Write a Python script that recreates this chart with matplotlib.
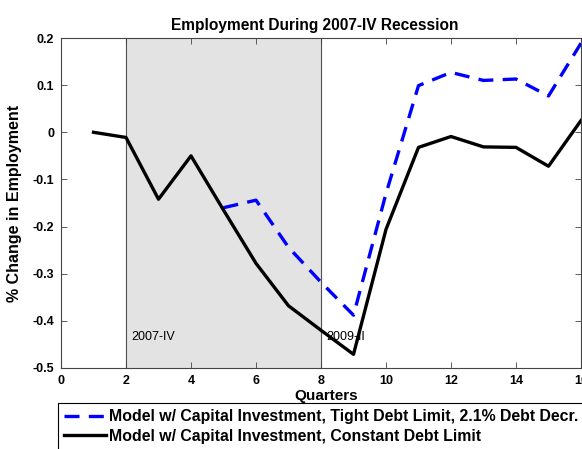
import numpy as np
import matplotlib
matplotlib.use("Agg")
from matplotlib import pyplot as plt

plt.rcParams['font.family'] = ['Liberation Sans', 'DejaVu Sans']

# quarters and series values
q_const = [1, 2, 3, 4, 5, 6, 7, 8, 9, 10, 11, 12, 13, 14, 15, 16]
emp_const = [0.0, -0.011, -0.142, -0.050, -0.165, -0.278, -0.368, -0.420,
             -0.471, -0.206, -0.032, -0.009, -0.031, -0.032, -0.072, 0.025]
q_tight = [5, 6, 7, 8, 9, 10, 11, 12, 13, 14, 15, 16]
emp_tight = [-0.160, -0.144, -0.244, -0.318, -0.388, -0.130, 0.099, 0.127,
             0.110, 0.113, 0.077, 0.189]

rec_start, rec_end = 2, 8
rec_labels = ['2007-IV', '2009-II']

fig = plt.figure(figsize=(5.82, 4.49), dpi=100)
ax = fig.add_axes([61/582, 81/449, 520/582, 330/449])

ax.axvspan(rec_start, rec_end, color='#e3e3e3', zorder=0)
ax.axvline(rec_start, color='#555555', lw=0.8, zorder=1)
ax.axvline(rec_end, color='#555555', lw=0.8, zorder=1)

l1, = ax.plot(q_tight, emp_tight, color='#0000ff', lw=2.4, ls=(0, (4.5, 2.8)), zorder=3,
              label='Model w/ Capital Investment, Tight Debt Limit, 2.1% Debt Decr.')
l2, = ax.plot(q_const, emp_const, color='black', lw=2.4, zorder=3,
              label='Model w/ Capital Investment, Constant Debt Limit')

ax.text(rec_start + 0.15, -0.435, rec_labels[0], fontsize=9, va='center', zorder=4)
ax.text(rec_end + 0.15, -0.435, rec_labels[1], fontsize=9, va='center', zorder=2)

ax.set_xlim(0, 16)
ax.set_ylim(-0.5, 0.2)
ax.set_xticks(np.arange(0, 17, 2))
ax.set_yticks(np.arange(-0.5, 0.21, 0.1))
ax.set_yticklabels(['-0.5', '-0.4', '-0.3', '-0.2', '-0.1', '0', '0.1', '0.2'])
ax.tick_params(direction='in', top=True, right=True, length=4, width=0.6,
               color='#444444', labelsize=9, pad=5)
for lab in ax.get_xticklabels() + ax.get_yticklabels():
    lab.set_fontweight('bold')
for s in ax.spines.values():
    s.set_color('#444444')
    s.set_linewidth(0.8)

ax.set_title('Employment During 2007-IV Recession', fontsize=11.2, fontweight='bold',
             pad=6, x=0.488)
ax.set_xlabel('Quarters', fontsize=11, fontweight='bold', labelpad=2)
ax.xaxis.set_label_coords(0.51, -0.065)
ax.set_ylabel('% Change in Employment', fontsize=11.5, fontweight='bold')
ax.yaxis.set_label_coords(-39/520, 0.5)

leg = fig.legend(handles=[l1, l2], loc='upper left', bbox_to_anchor=(58/582, 1 - 403/449),
                 fancybox=False, framealpha=1, edgecolor='black', handlelength=2.6,
                 handletextpad=0.2, borderaxespad=0, borderpad=0.4, labelspacing=0.28,
                 prop={'weight': 'bold', 'size': 11.4})
leg.get_frame().set_linewidth(0.8)

fig.savefig('out.png', dpi=100)
